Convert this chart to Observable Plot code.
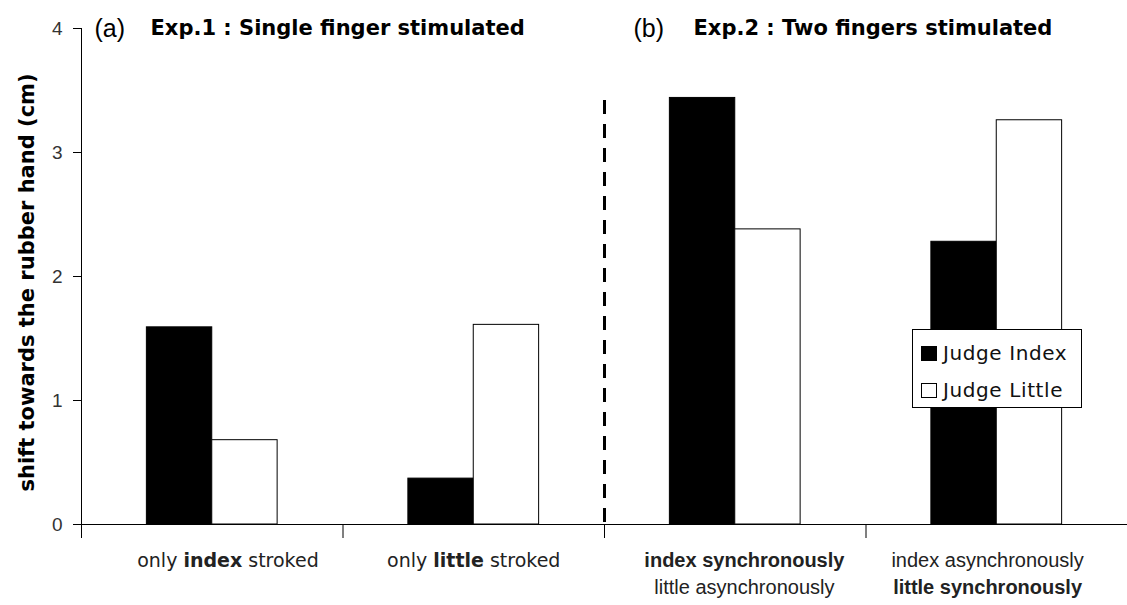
<!DOCTYPE html>
<html>
<head>
<meta charset="utf-8">
<script src="https://cdn.jsdelivr.net/npm/d3@7"></script>
<script src="https://cdn.jsdelivr.net/npm/@observablehq/plot@0.6"></script>
<style>
  body { margin: 0; background: #fff; }
  #wrap { position: relative; width: 1127px; height: 605px; font-family: "DejaVu Sans", sans-serif; }
  #legend { position: absolute; left: 912px; top: 329px; width: 168px; height: 77px; border: 1px solid #000; background: #fff; }
  .row { position: absolute; left: 8px; height: 24px; display: flex; align-items: center; font-size: 20px; letter-spacing: 0.6px; color: #111; white-space: nowrap; }
  .sw { width: 16px; height: 15px; border: 1px solid #000; margin-right: 6px; box-sizing: border-box; }
</style>
</head>
<body>
<div id="wrap"></div>
<script>
// ---- data ----
const groups = ["only **index** stroked", "only **little** stroked", "**index synchronously**\nlittle asynchronously", "index asynchronously\n**little synchronously**"];
const series = ["Judge Index", "Judge Little"];
const judgeIndex = [1.59, 0.37, 3.44, 2.28];
const judgeLittle = [0.68, 1.61, 2.38, 3.26];
const yTicks = [0, 1, 2, 3, 4];
const panelLabels = ["(a)", "(b)"];
const panelTitles = ["Exp.1 : Single finger stimulated", "Exp.2 : Two fingers stimulated"];
const panelStart = [0, 2];
const separatorX = 2;
const separatorTop = 3.42;
const yLabel = "shift towards the rubber hand (cm)";
const seriesFill = ["#000", "#fff"];
// small layout nudges of the category labels (x units)
const labelNudge = [0.06, 0, 0.035, -0.035];

// ---- build table ----
const bars = [];
groups.forEach((g, i) => {
  [judgeIndex, judgeLittle].forEach((vals, s) => {
    bars.push({group: g, gi: i, series: series[s], value: vals[i], x1: i + 0.25 + 0.25 * s, x2: i + 0.5 + 0.25 * s});
  });
});
const labelRows = [];
groups.forEach((g, i) => g.split("\n").forEach((line, li) => labelRows.push({x: i + 0.5 + labelNudge[i], gi: i, li, text: line})));

const narrow = "'Liberation Sans Narrow', 'Liberation Sans', sans-serif";
const plot = Plot.plot({
  width: 1127,
  height: 605,
  marginLeft: 81,
  marginRight: 0,
  marginTop: 28,
  marginBottom: 81,
  style: {fontFamily: "'DejaVu Sans', sans-serif", background: "#fff", color: "#000"},
  x: {domain: [0, 4], axis: null},
  y: {domain: [0, 4], axis: null},
  color: {domain: series, range: seriesFill},
  marks: [
    Plot.axisY({ticks: yTicks, tickSize: 8, tickPadding: 11, fontSize: 19, label: null, tickFormat: d => d, fill: "#333", fontFamily: "'Liberation Sans', sans-serif"}),
    Plot.axisX({ticks: yTicks, tickSize: 14, tickFormat: () => "", label: null}),
    Plot.ruleX([0], {y1: 0, y2: 4, stroke: "#000"}),
    Plot.rectY(bars, {x1: "x1", x2: "x2", y: "value", fill: "series", stroke: "#000", strokeWidth: 1}),
    Plot.ruleY([0], {x1: 0, x2: 4, stroke: "#000"}),
    Plot.ruleX([separatorX], {y1: separatorTop, y2: 0, stroke: "#000", strokeWidth: 3, strokeDasharray: "14,10"}),
    Plot.text(labelRows.filter(d => d.gi < 2), {x: "x", text: "text", frameAnchor: "bottom", dy: 42, fontSize: 19, fill: "#222"}),
    Plot.text(labelRows.filter(d => d.gi >= 2 && d.li === 0), {x: "x", text: "text", frameAnchor: "bottom", dy: 42, fontSize: 20, fill: "#222", fontFamily: narrow}),
    Plot.text(labelRows.filter(d => d.gi >= 2 && d.li === 1), {x: "x", text: "text", frameAnchor: "bottom", dy: 69, fontSize: 20, fill: "#222", fontFamily: narrow}),
    Plot.text([yLabel], {text: d => d, y: 2, frameAnchor: "left", textAnchor: "middle", dx: -54, dy: 6, rotate: -90, fontSize: 21, fontWeight: "bold"}),
    Plot.text(panelLabels, {x: (d, i) => panelStart[i], y: 4, text: d => d, textAnchor: "start", dx: 13, fontSize: 25, fontFamily: "'Liberation Sans', sans-serif", filter: (d, i) => i === 0}),
    Plot.text(panelLabels, {x: (d, i) => panelStart[i], y: 4, text: d => d, textAnchor: "start", dx: 29, fontSize: 25, fontFamily: "'Liberation Sans', sans-serif", filter: (d, i) => i === 1}),
    Plot.text(panelTitles, {x: (d, i) => panelStart[i], y: 4, text: d => d, textAnchor: "start", dx: 69, fontSize: 21, fontWeight: "bold", filter: (d, i) => i === 0}),
    Plot.text(panelTitles, {x: (d, i) => panelStart[i], y: 4, text: d => d, textAnchor: "start", dx: 89, fontSize: 21, fontWeight: "bold", filter: (d, i) => i === 1})
  ]
});

// render **bold** segments as tspans
plot.querySelectorAll("text, tspan").forEach(t => {
  if (t.children.length) return;
  const s = t.textContent;
  if (!s.includes("**")) return;
  t.textContent = "";
  s.split("**").forEach((part, k) => {
    if (!part) return;
    const ts = document.createElementNS("http://www.w3.org/2000/svg", "tspan");
    ts.textContent = part;
    if (k % 2 === 1) ts.setAttribute("font-weight", "bold");
    t.appendChild(ts);
  });
});

const wrap = document.getElementById("wrap");
wrap.appendChild(plot);

// legend
const legend = document.createElement("div");
legend.id = "legend";
series.forEach((s, i) => {
  const row = document.createElement("div");
  row.className = "row";
  row.style.top = (11 + i * 37) + "px";
  const sw = document.createElement("div");
  sw.className = "sw";
  sw.style.background = seriesFill[i];
  row.appendChild(sw);
  const lab = document.createElement("span");
  lab.textContent = s;
  row.appendChild(lab);
  legend.appendChild(row);
});
wrap.appendChild(legend);
</script>
</body>
</html>
